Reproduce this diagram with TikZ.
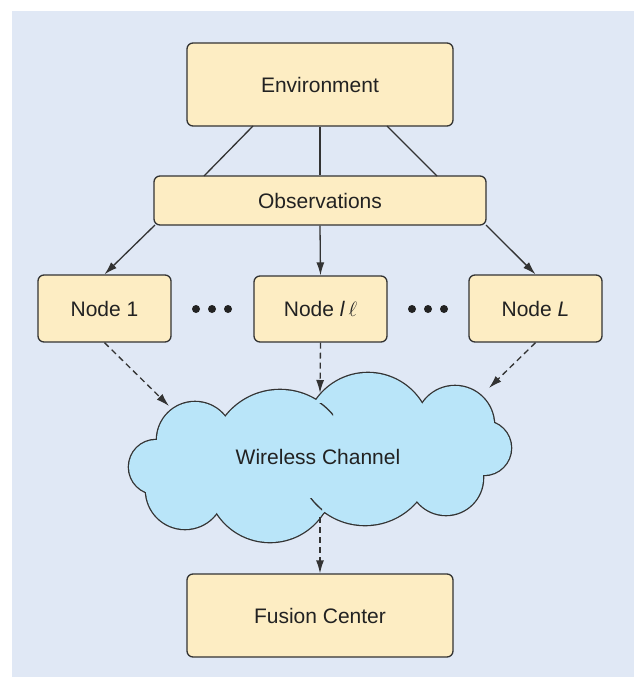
\documentclass[tikz,border=0pt]{standalone}
\usepackage{fontspec}
\setmainfont{Liberation Sans}
\usetikzlibrary{arrows.meta}
\definecolor{bg}{HTML}{E0E8F5}
\definecolor{boxfill}{HTML}{FDEDC3}
\definecolor{cloudfill}{HTML}{B9E5F9}
\definecolor{ink}{HTML}{333333}
\definecolor{txt}{HTML}{222222}
\begin{document}
\begin{tikzpicture}[x=1pt,y=-1pt,
  box/.style={draw=ink, fill=boxfill, line width=1.3pt, rounded corners=6pt,
    inner sep=0pt, text=txt, font=\fontsize{21}{25}\selectfont},
  conn/.style={draw=ink, line width=1.3pt},
  arr/.style={conn, -{Latex[length=13pt,width=8pt]}},
  darr/.style={arr, dash pattern=on 6pt off 4pt},
  dotmark/.style={circle, fill=txt, inner sep=0pt, minimum size=8pt},
]
\useasboundingbox (0,0) rectangle (634,677);
\fill[bg] (12,11) rectangle (634,677);

% boxes
\node[box, minimum width=266pt, minimum height=83pt] (env) at (320,84.5) {Environment};
\node[box, minimum width=332pt, minimum height=49pt] (obs) at (320,200.5) {Observations};
\node[box, minimum width=133pt, minimum height=67pt] (n1) at (104.5,308.5) {Node 1};
\node[box, minimum width=133pt, minimum height=66pt] (nl) at (320.5,309) {Node \textit{l}\,$\ell$};
\node[box, minimum width=133pt, minimum height=67pt] (nL) at (535.5,308.5) {Node \textit{L}};
\node[box, minimum width=266pt, minimum height=83pt] (fc) at (320,615.5) {Fusion Center};

% dots
\foreach \x [count=\i] in {196,212,228,412,428,444}
  \node[dotmark] (dot\i) at (\x,309) {};

% cloud
\def\lobes{195/440/38, 280/459/69, 368/436/63, 455/425/39, 484/448/27,
  446/478/37, 365/457/68, 270/479/63, 185/490/39, 156/467/27}
\foreach \cx/\cy/\r in \lobes
  \draw[ink, line width=2.6pt] (\cx,\cy) circle[radius=\r*1pt];
\foreach \cx/\cy/\r in \lobes
  \fill[cloudfill] (\cx,\cy) circle[radius=\r*1pt];
\fill[cloudfill] (180,430) rectangle (470,500);
\begin{scope}
  \clip (318,403) rectangle (333,418);
  \draw[ink, line width=1.3pt] (280,459) circle[radius=69pt];
\end{scope}
\begin{scope}
  \clip (307,498) rectangle (322,512);
  \draw[ink, line width=1.3pt] (365,457) circle[radius=68pt];
\end{scope}
\node[text=txt, font=\fontsize{21}{25}\selectfont] (cloud) at (318,457) {Wireless Channel};

% coordinates
\coordinate (e1) at (253,126);
\coordinate (e3) at (387,126);
\coordinate (b1) at (204,176);
\coordinate (b3) at (437,176);
\coordinate (o1) at (155,225);
\coordinate (o3) at (486,225);
\coordinate (c1) at (169,406);
\coordinate (c2) at (320,393);
\coordinate (c3) at (489,388);
\coordinate (cb) at (320,517);

% connectors
\draw[conn] (e1) -- (b1);
\draw[conn] (env.south) -- (obs.north);
\draw[conn] (e3) -- (b3);
\draw[arr] (o1) -- (n1.north);
\draw[arr] (obs.south) -- (nl.north);
\draw[arr] (o3) -- (nL.north);
\draw[darr] (n1.south) -- (c1);
\draw[darr] (nl.south) -- (c2);
\draw[darr] (nL.south) -- (c3);
\draw[darr] (cb) -- (fc.north);
\end{tikzpicture}
\end{document}
